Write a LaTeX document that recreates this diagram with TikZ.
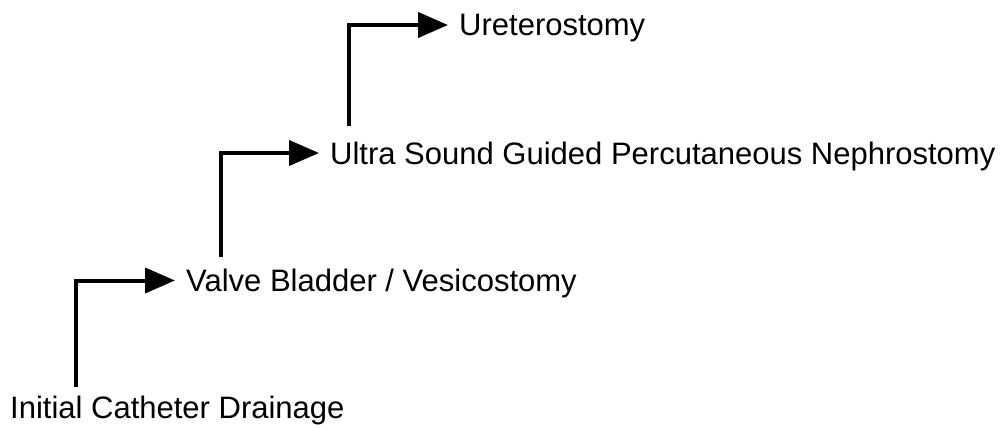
\documentclass[tikz,border=0pt]{standalone}
\usepackage{fontspec}
\setmainfont{Liberation Sans}
\usetikzlibrary{arrows.meta}
\begin{document}
\begin{tikzpicture}[x=1pt,y=-1pt,
  lbl/.style={anchor=base west,inner sep=0pt,font=\fontsize{31}{37}\selectfont},
  stair/.style={line width=4pt,-{Triangle[length=30pt,width=25pt]},shorten >=11pt}]
\useasboundingbox (0,0) rectangle (1008,428);
\node[lbl] (n1) at (10,418) {Initial Catheter Drainage};
\node[lbl] (n2) at (186,291) {Valve Bladder / Vesicostomy};
\node[lbl] (n3) at (330,164) {Ultra Sound Guided Percutaneous Nephrostomy};
\node[lbl] (n4) at (459,36) {Ureterostomy};
\coordinate (s1) at (76,387);
\coordinate (s2) at (221,257);
\coordinate (s3) at (349,126);
\draw[stair] (s1) |- ([yshift=10.5pt]n2.base west);
\draw[stair] (s2) |- ([yshift=11pt]n3.base west);
\draw[stair] (s3) |- ([yshift=11pt]n4.base west);
\end{tikzpicture}
\end{document}
